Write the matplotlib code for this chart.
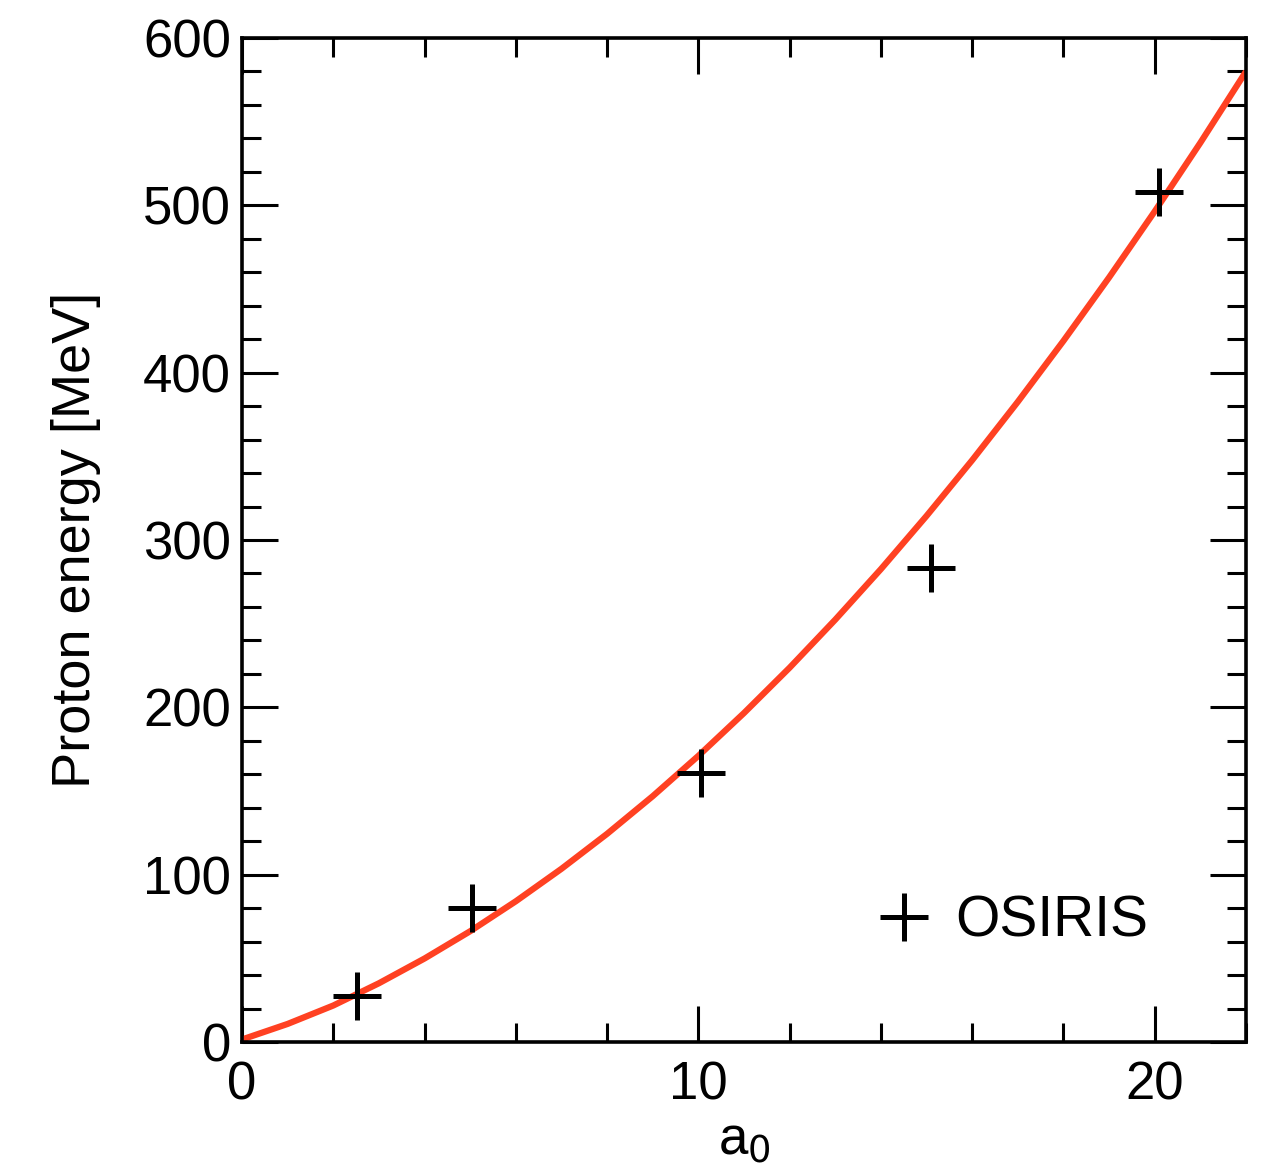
import numpy as np
import matplotlib.pyplot as plt
from matplotlib.ticker import MultipleLocator

# simulation points (OSIRIS)
sim_a0 = [2.53, 5.05, 10.05, 15.1, 20.1]
sim_energy = [27.5, 80, 161, 283, 508]

# scaling curve at integer a0
curve_a0 = list(range(0, 23))
curve_energy = [1.5, 10.8, 21.8, 35.1, 49.9, 66.2, 84.1, 103.5, 124.4, 146.9, 171.0,
                196.6, 223.7, 252.4, 282.6, 314.4, 347.7, 382.6, 419.0, 456.9, 496.4,
                537.4, 580.0]

plt.rcParams['font.family'] = ['Liberation Sans', 'DejaVu Sans']

fig = plt.figure(figsize=(12.81, 11.64), dpi=100)
ax = fig.add_axes([242 / 1281, 1 - 1042 / 1164, 1004 / 1281, 1004 / 1164])

ax.plot(curve_a0, curve_energy, color='#FF4122', lw=4.5, solid_capstyle='butt', zorder=2)
ax.plot(sim_a0, sim_energy, ls='none', marker='+', ms=34, mew=3.6, color='black',
        label='OSIRIS', zorder=3)

ax.set_xlim(0, 22)
ax.set_ylim(0, 600)
ax.xaxis.set_major_locator(MultipleLocator(10))
ax.xaxis.set_minor_locator(MultipleLocator(2))
ax.yaxis.set_major_locator(MultipleLocator(100))
ax.yaxis.set_minor_locator(MultipleLocator(20))

ax.tick_params(which='both', direction='in', top=True, right=True, width=2.2,
               labelsize=38)
ax.tick_params(which='major', length=26)
ax.tick_params(which='minor', length=14)
ax.tick_params(axis='x', pad=13)
ax.tick_params(axis='y', pad=8)
for s in ax.spines.values():
    s.set_linewidth(2.6)

ax.set_xlabel('a$_0$', fontsize=38, labelpad=4)
ax.set_ylabel('Proton energy [MeV]', fontsize=39, labelpad=30)

ax.legend(loc='lower right', bbox_to_anchor=(0.925, 0.07), frameon=False, fontsize=41,
          numpoints=1, handlelength=1.0, handletextpad=0.4, borderaxespad=0)

fig.savefig('out.png', dpi=100)
